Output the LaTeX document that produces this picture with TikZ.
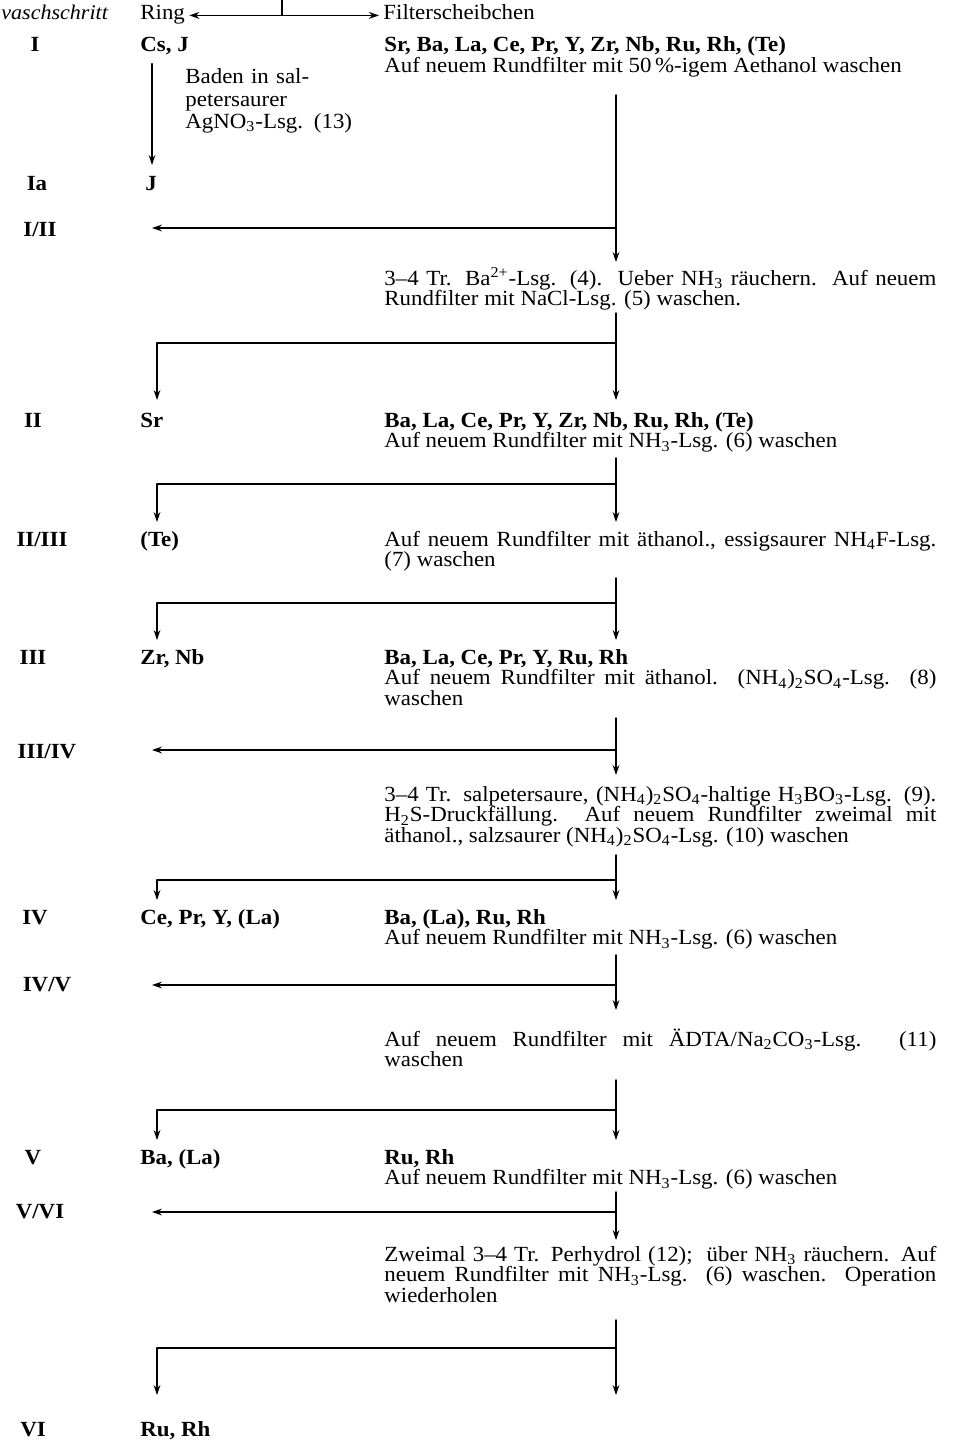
\documentclass[tikz,border=0pt]{standalone}
\usepackage{fontspec}
\setmainfont{Liberation Serif}[FakeStretch=1.06]
\usetikzlibrary{arrows.meta}

\begin{document}
\begin{tikzpicture}[x=0.5pt,y=-0.5pt,line cap=round,line join=round,
  every node/.style={inner sep=0pt,font=\fontsize{10.8}{10.4}\selectfont},
  flow/.style={line width=0.7pt},
  arr/.style={flow,-{Stealth[length=5pt,width=3.4pt]}},
  stufe/.style={anchor=base,font=\fontsize{10.8}{10.4}\selectfont\bfseries},
  elem/.style={anchor=base west,font=\fontsize{10.8}{10.4}\selectfont\bfseries},
  txt/.style={anchor=base west,text width=276pt,align=justify}]
  \useasboundingbox (0,0) rectangle (956,1445);
  % Kopfzeile
  \node[anchor=base west,font=\fontsize{10.4}{10.4}\selectfont\itshape] (kopf) at (1,20) {vaschschritt};
  \node[anchor=base west] (ring) at (140,20) {Ring};
  \node[anchor=base west] (filter) at (383,20) {Filterscheibchen};
  \coordinate (kt) at (282,0);
  \draw[flow,{Stealth[length=5pt,width=3.4pt]}-{Stealth[length=5pt,width=3.4pt]}]
    ([xshift=2pt]ring.mid east) -- ([xshift=-2pt]filter.mid west);
  \draw[flow] (kt) -- (kt |- ring.mid east);
  % Stufe I
  \node[stufe] (s1) at (35,52) {I};
  \node[elem] (l1) at (140,52) {Cs, J};
  \node[txt] (r1) at (384,52) {\textbf{Sr, Ba, La, Ce, Pr, Y, Zr, Nb, Ru, Rh, (Te)}\\
    Auf neuem Rundfilter mit 50\,\%-igem Aethanol waschen};
  \node[anchor=base west,text width=90pt,align=left,font=\fontsize{10.8}{11}\selectfont] (baden) at (185,84)
    {Baden in sal-\\petersaurer\\AgNO\textsubscript{3}-Lsg. (13)};
  % Stufe Ia
  \node[stufe] (s1a) at (37,191) {Ia};
  \node[elem] (l1a) at (145,191) {J};
  \coordinate (ka) at (152,165);
  \draw[arr] (l1.south -| ka) ++(0,8) -- (ka);
  % I/II
  \node[stufe] (s12) at (40,236) {I/II};
  \coordinate (v1) at (616,95);
  \coordinate (h1) at (616,228);
  \coordinate (e1) at (616,262);
  \draw[arr] (v1) -- (e1);
  \draw[arr] (h1) -- (h1 -| ka);
  \node[txt] (r12) at (384,285) {3--4 Tr. Ba\textsuperscript{2+}-Lsg. (4).\ \ Ueber NH\textsubscript{3} räuchern.\ \ Auf neuem\linebreak
    Rundfilter mit NaCl-Lsg. (5) waschen.};
  \coordinate (v2) at (616,313);
  \coordinate (h2) at (616,343);
  \coordinate (e2) at (616,400);
  \coordinate (b2) at (157,343);
  \draw[arr] (v2) -- (e2);
  \draw[arr] (h2) -- (b2) -- (b2 |- e2);
  % Stufe II
  \node[stufe] (s2) at (33,427) {II};
  \node[elem] (l2) at (140,427) {Sr};
  \node[txt] (r2) at (384,427) {\textbf{Ba, La, Ce, Pr, Y, Zr, Nb, Ru, Rh, (Te)}\\
    Auf neuem Rundfilter mit NH\textsubscript{3}-Lsg. (6) waschen};
  \coordinate (v3) at (616,458);
  \coordinate (h3) at (616,484);
  \coordinate (e3) at (616,522);
  \coordinate (b3) at (157,484);
  \draw[arr] (v3) -- (e3);
  \draw[arr] (h3) -- (b3) -- (b3 |- e3);
  % II/III
  \node[stufe] (s23) at (42,546) {II/III};
  \node[elem] (l23) at (140,546) {(Te)};
  \node[txt] (r23) at (384,546) {Auf neuem Rundfilter mit äthanol., essigsaurer NH\textsubscript{4}F-Lsg.\linebreak
    (7) waschen};
  \coordinate (v4) at (616,578);
  \coordinate (h4) at (616,603);
  \coordinate (e4) at (616,640);
  \coordinate (b4) at (157,603);
  \draw[arr] (v4) -- (e4);
  \draw[arr] (h4) -- (b4) -- (b4 |- e4);
  % Stufe III
  \node[stufe] (s3) at (33,664) {III};
  \node[elem] (l3) at (140,664) {Zr, Nb};
  \node[txt] (r3) at (384,664) {\textbf{Ba, La, Ce, Pr, Y, Ru, Rh}\\
    Auf neuem Rundfilter mit äthanol. (NH\textsubscript{4})\textsubscript{2}SO\textsubscript{4}-Lsg. (8)\linebreak waschen};
  % III/IV
  \node[stufe] (s34) at (47,758) {III/IV};
  \coordinate (v5) at (616,718);
  \coordinate (h5) at (616,750);
  \coordinate (e5) at (616,775);
  \draw[arr] (v5) -- (e5);
  \draw[arr] (h5) -- (h5 -| ka);
  \node[txt] (r34) at (384,801) {3--4 Tr. salpetersaure, (NH\textsubscript{4})\textsubscript{2}SO\textsubscript{4}-haltige H\textsubscript{3}BO\textsubscript{3}-Lsg. (9).\linebreak
    H\textsubscript{2}S-Druckfällung.\ \ Auf neuem Rundfilter zweimal mit\linebreak
    äthanol., salzsaurer (NH\textsubscript{4})\textsubscript{2}SO\textsubscript{4}-Lsg. (10) waschen};
  \coordinate (v6) at (616,855);
  \coordinate (h6) at (616,880);
  \coordinate (e6) at (616,900);
  \coordinate (b6) at (157,880);
  \draw[arr] (v6) -- (e6);
  \draw[arr] (h6) -- (b6) -- (b6 |- e6);
  % Stufe IV
  \node[stufe] (s4) at (35,924) {IV};
  \node[elem] (l4) at (140,924) {Ce, Pr, Y, (La)};
  \node[txt] (r4) at (384,924) {\textbf{Ba, (La), Ru, Rh}\\
    Auf neuem Rundfilter mit NH\textsubscript{3}-Lsg. (6) waschen};
  % IV/V
  \node[stufe] (s45) at (47,991) {IV/V};
  \coordinate (v7) at (616,955);
  \coordinate (h7) at (616,985);
  \coordinate (e7) at (616,1010);
  \draw[arr] (v7) -- (e7);
  \draw[arr] (h7) -- (h7 -| ka);
  \node[txt] (r45) at (384,1046) {Auf neuem Rundfilter mit ÄDTA/Na\textsubscript{2}CO\textsubscript{3}-Lsg. (11)\linebreak waschen};
  \coordinate (v8) at (616,1080);
  \coordinate (h8) at (616,1110);
  \coordinate (e8) at (616,1140);
  \coordinate (b8) at (157,1110);
  \draw[arr] (v8) -- (e8);
  \draw[arr] (h8) -- (b8) -- (b8 |- e8);
  % Stufe V
  \node[stufe] (s5) at (33,1164) {V};
  \node[elem] (l5) at (140,1164) {Ba, (La)};
  \node[txt] (r5) at (384,1164) {\textbf{Ru, Rh}\\
    Auf neuem Rundfilter mit NH\textsubscript{3}-Lsg. (6) waschen};
  % V/VI
  \node[stufe] (s56) at (40,1218) {V/VI};
  \coordinate (v9) at (616,1192);
  \coordinate (h9) at (616,1212);
  \coordinate (e9) at (616,1240);
  \draw[arr] (v9) -- (e9);
  \draw[arr] (h9) -- (h9 -| ka);
  \node[txt] (r56) at (384,1261) {Zweimal 3--4 Tr. Perhydrol (12);\ \ über NH\textsubscript{3} räuchern. Auf\linebreak
    neuem Rundfilter mit NH\textsubscript{3}-Lsg. (6) waschen.\ \ Operation\linebreak wiederholen};
  \coordinate (v10) at (616,1320);
  \coordinate (h10) at (616,1348);
  \coordinate (e10) at (616,1395);
  \coordinate (b10) at (157,1348);
  \draw[arr] (v10) -- (e10);
  \draw[arr] (h10) -- (b10) -- (b10 |- e10);
  % Stufe VI
  \node[stufe] (s6) at (33,1436) {VI};
  \node[elem] (l6) at (140,1436) {Ru, Rh};
\end{tikzpicture}
\end{document}
